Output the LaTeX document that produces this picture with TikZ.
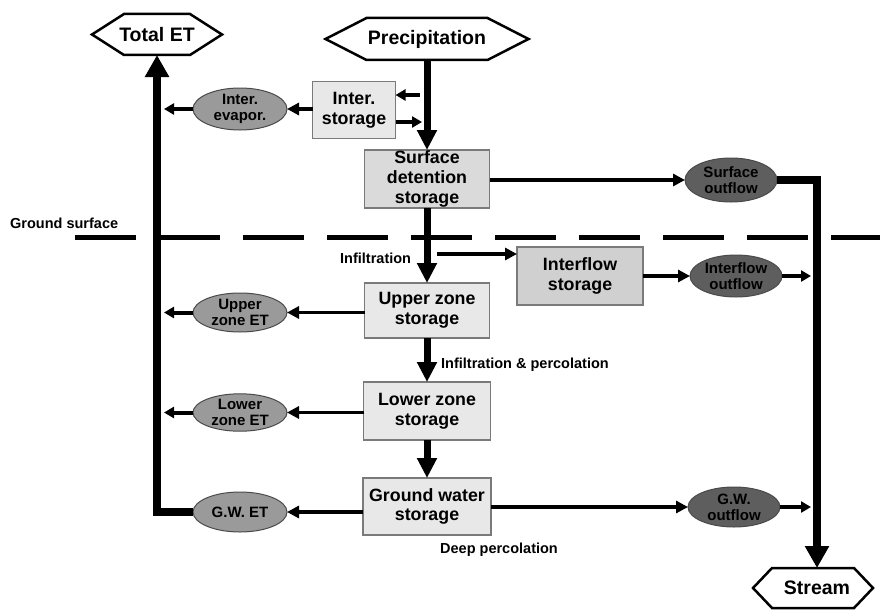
\documentclass[tikz,border=0pt]{standalone}
\usepackage{fontspec}
\setmainfont{Liberation Sans}
\usetikzlibrary{arrows.meta,calc,shapes.geometric}
\definecolor{boxline}{HTML}{7A7A7A}
\definecolor{boxA}{HTML}{E8E8E8}
\definecolor{boxB}{HTML}{DADADA}
\definecolor{boxC}{HTML}{D0D0D0}
\definecolor{ellA}{HTML}{9A9A9A}
\definecolor{ellB}{HTML}{5E5E5E}
\definecolor{ellline}{HTML}{4A4A4A}
\newcommand\mkhex[7]{%
  \node[hexbox, minimum width=#4pt, minimum height=#5pt] (#1) at (#2,#3) {#7};
  \draw[hexline] (#1.west) -- ($(#1.north west)+(#6,0)$) -- ($(#1.north east)+(-#6,0)$)
    -- (#1.east) -- ($(#1.south east)+(-#6,0)$) -- ($(#1.south west)+(#6,0)$) -- cycle;}
\tikzset{
  box/.style={draw=boxline, line width=1.5pt, inner sep=0pt, outer sep=0pt, align=center,
    font=\bfseries\fontsize{17.8}{19.8}\selectfont},
  ellbase/.style={ellipse, draw=ellline, line width=1pt, inner sep=0pt, outer sep=0pt, align=center,
    minimum width=94pt, minimum height=40pt, font=\bfseries\fontsize{15}{16}\selectfont},
  ellL/.style={ellbase, fill=ellA},
  ellD/.style={ellbase, fill=ellB},
  hexbox/.style={inner sep=0pt, outer sep=0pt, font=\bfseries\fontsize{19.5}{21}\selectfont},
  hexline/.style={line width=2.5pt, line join=miter},
  lbl/.style={font=\bfseries\fontsize{14.5}{16}\selectfont, inner sep=0pt, anchor=base west},
  bigarr/.style={line width=7pt, -{Triangle[width=19pt,length=20pt]}},
  vbig/.style={line width=8.5pt, -{Triangle[width=23pt,length=22pt]}},
  tarr/.style={line width=3.5pt, -{Triangle[width=12pt,length=12pt]}},
  sarr/.style={line width=4pt, -{Triangle[width=11pt,length=10pt]}},
  gline/.style={line width=5pt, dash pattern=on 61pt off 23pt},
}
\begin{document}
\begin{tikzpicture}[x=1pt,y=-1pt]
\useasboundingbox (0,0) rectangle (880,610);

% hexagons
\mkhex{totalet}{157}{34.5}{130}{41}{32}{Total ET}
\mkhex{precip}{427}{39}{203}{42}{41}{Precipitation}
\mkhex{stream}{813}{588}{120}{40}{19}{\hspace*{8pt}Stream}

% boxes
\node[box, fill=boxA, minimum width=83pt, minimum height=57pt] (inter) at (354,110) {Inter.\\storage};
\node[box, fill=boxB, minimum width=125pt, minimum height=58pt] (surf) at (427,179) {Surface\\detention\\storage};
\node[box, fill=boxC, minimum width=126pt, minimum height=58pt] (iflow) at (580,276) {Interflow\\storage};
\node[box, fill=boxA, minimum width=125pt, minimum height=55pt] (upper) at (427,310.5) {Upper zone\\storage};
\node[box, fill=boxA, minimum width=127pt, minimum height=58pt] (lower) at (427,411) {Lower zone\\storage};
\node[box, fill=boxA, minimum width=128pt, minimum height=57pt] (gw) at (427,506.5) {Ground water\\storage};

% ellipses
\node[ellL, minimum height=42pt] (ievap) at (240,109) {Inter.\\evapor.};
\node[ellL, minimum height=39pt] (uet) at (240,312.5) {Upper\\zone ET};
\node[ellL, minimum height=37pt] (let) at (240,412.5) {Lower\\zone ET};
\node[ellL] (gwet) at (240,512) {G.W. ET};
\node[ellD, minimum width=92pt, minimum height=44pt] (sout) at (731,180) {Surface\\outflow};
\node[ellD, minimum width=92pt, minimum height=42pt] (iout) at (736,276) {Interflow\\outflow};
\node[ellD, minimum width=92pt] (gwout) at (734,507) {G.W.\\outflow};

% labels
\node[lbl] (lgs) at (10,228) {Ground surface};
\node[lbl] (linf) at (340,263) {Infiltration};
\node[lbl] (linp) at (441,368) {Infiltration \& percolation};
\node[lbl] (ldp) at (440,553) {Deep percolation};

% ground surface line
\coordinate (g1) at (75,237);
\coordinate (g2) at (880,237);
\draw[gline] (g1) -- (g2);

% main vertical flow
\draw[bigarr] (precip.south) -- (surf.north);
\draw[bigarr] (surf.south) -- (upper.north);
\draw[bigarr] (upper.south) -- (lower.north);
\draw[bigarr] (lower.south) -- (gw.north);

% interception
\coordinate (pa) at (420,95);
\coordinate (pb) at (422,122);
\draw[sarr] (pa) -- (pa -| inter.east);
\draw[sarr] (pb -| inter.east) -- (pb);
\draw[tarr] (inter.west |- ievap) -- (ievap.east);

% ET arrows to the left trunk
\coordinate (e1) at (164,109);
\coordinate (e2) at (164,312.5);
\coordinate (e3) at (164,412.5);
\draw[sarr] (ievap.west) -- (e1);
\draw[tarr] (upper.west |- uet) -- (uet.east);
\draw[sarr] (uet.west) -- (e2);
\draw[tarr] (lower.west |- let) -- (let.east);
\draw[sarr] (let.west) -- (e3);
\draw[tarr] (gw.west |- gwet) -- (gwet.east);
\draw[vbig] (gwet.west) -| (totalet.south);

% outflows
\draw[tarr] (surf.east |- sout) -- (sout.west);
\coordinate (ib) at (437,254);
\draw[tarr] (ib) -- (ib -| iflow.west);
\draw[tarr] (iflow.east) -- (iout.west);
\draw[tarr] (gw.east |- gwout) -- (gwout.west);
\coordinate (o1) at (811,276);
\coordinate (o2) at (811,507);
\draw[sarr] (iout.east) -- (o1);
\draw[sarr] (gwout.east) -- (o2);
\coordinate (sbend) at (817,180);
\draw[vbig] (sout.east) -- (sbend) -- (sbend |- stream.north);
\end{tikzpicture}
\end{document}
